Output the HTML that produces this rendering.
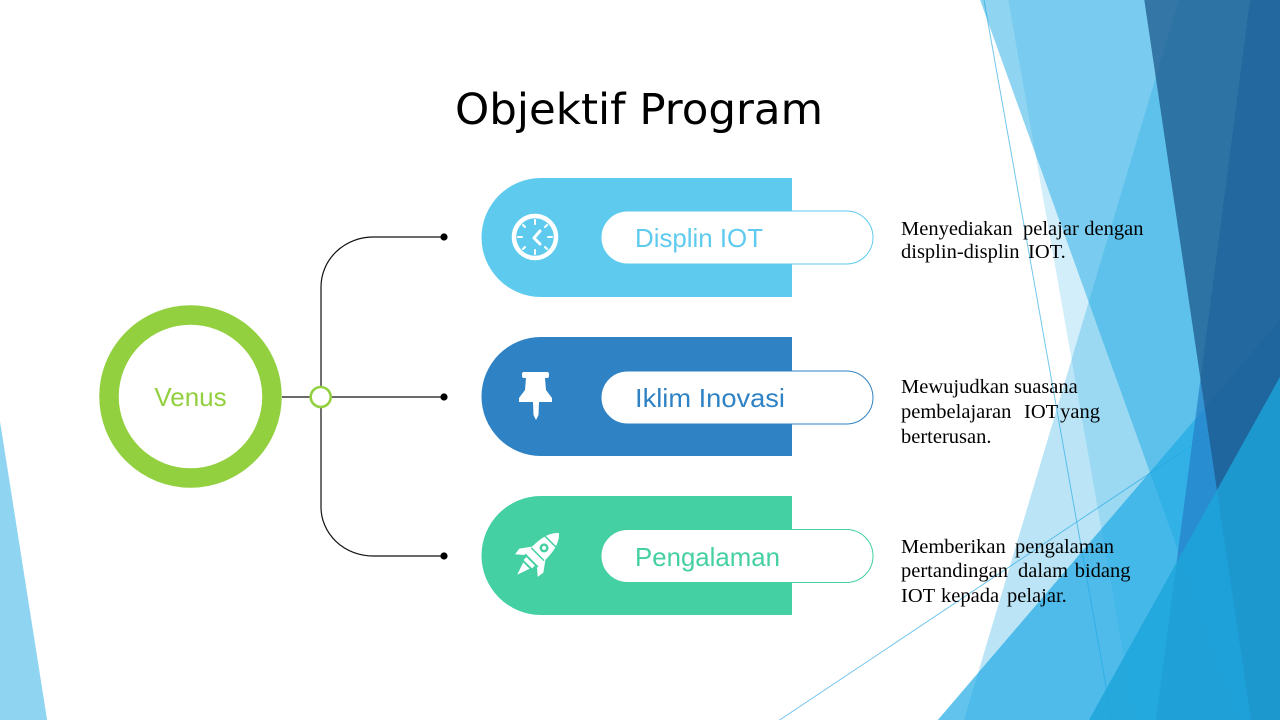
<!DOCTYPE html>
<html><head><meta charset="utf-8"><style>
html,body{margin:0;padding:0;background:#fff;}
svg{display:block;}
</style></head><body>
<svg width="1280" height="720" viewBox="0 0 1280 720" xmlns="http://www.w3.org/2000/svg">
<rect width="1280" height="720" fill="#fff"/>
<!-- background facets -->
<polygon points="0,421.3 47.1,720 0,720" fill="rgb(31,170,228)" fill-opacity="0.5"/>
<line x1="984" y1="0" x2="1112" y2="720" stroke="rgb(80,185,232)" stroke-width="1" stroke-opacity="0.8"/>
<line x1="779.6" y1="720" x2="1280" y2="386.5" stroke="rgb(80,185,232)" stroke-width="1" stroke-opacity="0.8"/>
<polygon points="1178.8,0 1280,0 1280,720 964,720" fill="rgb(31,170,228)" fill-opacity="0.3"/>
<polygon points="1008.3,0 1280,0 1280,720 1135,720" fill="rgb(31,170,228)" fill-opacity="0.2"/>
<polygon points="1280,320 1280,720 937.8,720" fill="rgb(31,170,228)" fill-opacity="0.7"/>
<polygon points="980.1,0 1280,0 1280,720 1239,720" fill="rgb(31,170,228)" fill-opacity="0.5"/>
<polygon points="1250,0 1280,0 1280,720 1156,720" fill="rgb(35,125,200)" fill-opacity="0.7"/>
<polygon points="1144.3,0 1280,0 1280,720 1251,720" fill="rgb(30,90,140)" fill-opacity="0.75"/>
<polygon points="1280,376.9 1280,720 1088.9,720" fill="rgb(27,165,218)" fill-opacity="0.8"/>

<!-- title -->
<text x="455" y="124" font-family="'DejaVu Sans', sans-serif" font-size="43" fill="#000" textLength="368" lengthAdjust="spacingAndGlyphs">Objektif Program</text>

<!-- connectors -->
<path d="M444,237 L373,237 A52,50 0 0 0 321,287 L321,507 A52,49 0 0 0 373,556 L444,556" fill="none" stroke="#111" stroke-width="1.2"/>
<line x1="282" y1="397" x2="310" y2="397" stroke="#111" stroke-width="1.2"/>
<line x1="331" y1="397" x2="444" y2="397" stroke="#111" stroke-width="1.2"/>
<circle cx="444" cy="237" r="3.6" fill="#000"/>
<circle cx="444" cy="397" r="3.6" fill="#000"/>
<circle cx="444" cy="556" r="3.6" fill="#000"/>
<circle cx="320.7" cy="397" r="10" fill="#fff" stroke="#92d040" stroke-width="2.6"/>

<!-- venus ring -->
<circle cx="190.5" cy="396.5" r="81.5" fill="#fff" stroke="#92d040" stroke-width="19.5"/>
<text x="190.5" y="406" text-anchor="middle" font-family="'Liberation Sans', sans-serif" font-size="26" fill="#92d040">Venus</text>

<!-- card 1 -->
<path d="M541,178 L792,178 L792,297 L541,297 A59.5,59.5 0 0 1 541,178 Z" fill="#5ecbee"/>
<rect x="601" y="211" width="272" height="53" rx="26.5" ry="26.5" fill="#fff" stroke="#5ecbee" stroke-width="1"/>
<text x="635" y="247" font-family="'Liberation Sans', sans-serif" font-size="26" fill="#5ecbee" textLength="128" lengthAdjust="spacingAndGlyphs">Displin IOT</text>
<!-- clock icon -->
<circle cx="535" cy="237" r="21" fill="none" stroke="#fff" stroke-width="4.5"/>
<g stroke="#fff" stroke-width="2" stroke-linecap="round">
<line x1="535" y1="220" x2="535" y2="224"/>
<line x1="535" y1="250" x2="535" y2="254"/>
<line x1="518" y1="237" x2="522" y2="237"/>
<line x1="548" y1="237" x2="552" y2="237"/>
<line x1="523" y1="225" x2="525" y2="227"/>
<line x1="547" y1="225" x2="545" y2="227"/>
<line x1="523" y1="249" x2="525" y2="247"/>
<line x1="547" y1="249" x2="545" y2="247"/>
</g>
<polyline points="540,231 534,238 540,244" fill="none" stroke="#fff" stroke-width="3" stroke-linecap="round" stroke-linejoin="round"/>

<!-- card 2 -->
<path d="M541,337 L792,337 L792,456 L541,456 A59.5,59.5 0 0 1 541,337 Z" fill="#2f83c4"/>
<rect x="601" y="371" width="272" height="53" rx="26.5" ry="26.5" fill="#fff" stroke="#2f83c4" stroke-width="1"/>
<text x="635" y="407" font-family="'Liberation Sans', sans-serif" font-size="26" fill="#2f83c4" textLength="150" lengthAdjust="spacingAndGlyphs">Iklim Inovasi</text>
<!-- pin icon -->
<rect x="522" y="372" width="27" height="6" rx="2" fill="#fff"/>
<polygon points="526,378 545,378 546,390 552,398 552,402 519,402 519,398 525,390" fill="#fff"/>
<polygon points="533,402 539,402 538.5,415 536,420 533.5,415" fill="#fff"/>

<!-- card 3 -->
<path d="M541,496 L792,496 L792,615 L541,615 A59.5,59.5 0 0 1 541,496 Z" fill="#44d0a3"/>
<rect x="601" y="529.5" width="272" height="53" rx="26.5" ry="26.5" fill="#fff" stroke="#44d0a3" stroke-width="1"/>
<text x="635" y="566" font-family="'Liberation Sans', sans-serif" font-size="26" fill="#44d0a3" textLength="145" lengthAdjust="spacingAndGlyphs">Pengalaman</text>
<!-- rocket icon -->
<g transform="translate(537,555) rotate(45)">
<path d="M0,-31 C9,-23 10,-10 9,7 L-9,7 C-10,-10 -9,-23 0,-31 Z" fill="#fff"/>
<path d="M-9,-3 L-17,8 L-16,15 L-9,9 Z" fill="#fff"/>
<path d="M9,-3 L17,8 L16,15 L9,9 Z" fill="#fff"/>
<rect x="-6" y="9" width="12" height="4" fill="#fff"/>
<path d="M-4.5,15 L0,28 L4.5,15 Z" fill="#fff"/>
<circle cx="0" cy="-10" r="4.5" fill="#44d0a3"/>
<circle cx="0" cy="-10" r="2" fill="#fff"/>
<line x1="-9" y1="-1" x2="9" y2="-1" stroke="#44d0a3" stroke-width="1.5"/>
<line x1="-9" y1="-19" x2="9" y2="-19" stroke="#44d0a3" stroke-width="1.5"/>
</g>

<!-- descriptions -->
<g font-family="'Liberation Serif', serif" font-size="20.5" fill="#000">
<text x="901" y="235">Menyediakan</text>
<text x="1023" y="235">pelajar</text>
<text x="1143.5" y="235" text-anchor="end">dengan</text>
<text x="901" y="258">displin-displin</text>
<text x="1028" y="258">IOT.</text>

<text x="901" y="393">Mewujudkan</text>
<text x="1014" y="393">suasana</text>
<text x="901" y="418">pembelajaran</text>
<text x="1024" y="418">IOT</text>
<text x="1100" y="418" text-anchor="end">yang</text>
<text x="901" y="443">berterusan.</text>

<text x="901" y="553">Memberikan</text>
<text x="1015" y="553">pengalaman</text>
<text x="901" y="577">pertandingan</text>
<text x="1018" y="577">dalam</text>
<text x="1130.5" y="577" text-anchor="end">bidang</text>
<text x="901" y="602">IOT</text>
<text x="941" y="602">kepada</text>
<text x="1007" y="602">pelajar.</text>
</g>
</svg>
</body></html>
